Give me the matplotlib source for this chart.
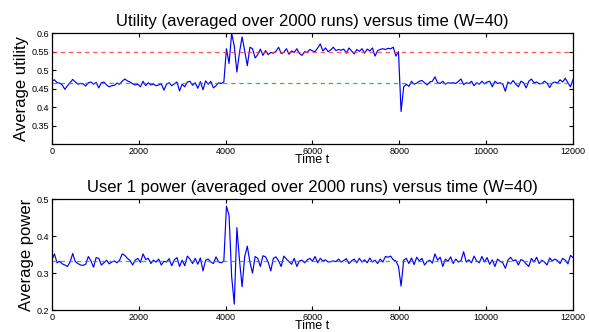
import numpy as np
import matplotlib
matplotlib.use("Agg")
import matplotlib.pyplot as plt

plt.rcParams['font.family'] = ['Liberation Sans', 'DejaVu Sans']

# time grid (sample every 60 steps)
t = np.arange(0, 12001, 60)

utility = [
    # 0 .. 3960
    0.470, 0.474, 0.466, 0.465, 0.460, 0.448, 0.458, 0.466, 0.475, 0.468,
    0.462, 0.464, 0.463, 0.457, 0.466, 0.468, 0.462, 0.467, 0.452, 0.466,
    0.468, 0.460, 0.455, 0.458, 0.459, 0.465, 0.462, 0.470, 0.476, 0.471,
    0.468, 0.463, 0.460, 0.462, 0.455, 0.470, 0.458, 0.466, 0.460, 0.462,
    0.458, 0.460, 0.463, 0.446, 0.462, 0.466, 0.458, 0.463, 0.468, 0.444,
    0.462, 0.455, 0.468, 0.470, 0.459, 0.466, 0.451, 0.469, 0.447, 0.471,
    0.462, 0.470, 0.452, 0.458, 0.466, 0.464, 0.468,
    # 4020 .. 7980
    0.558, 0.518, 0.600, 0.565, 0.495, 0.548, 0.590, 0.552, 0.512, 0.562,
    0.558, 0.533, 0.542, 0.557, 0.540, 0.553, 0.542, 0.548, 0.546, 0.551,
    0.562, 0.545, 0.548, 0.558, 0.543, 0.552, 0.548, 0.558, 0.545, 0.540,
    0.550, 0.548, 0.556, 0.552, 0.550, 0.560, 0.571, 0.552, 0.560, 0.550,
    0.555, 0.562, 0.553, 0.556, 0.554, 0.557, 0.546, 0.560, 0.552, 0.544,
    0.556, 0.551, 0.558, 0.546, 0.557, 0.552, 0.560, 0.538, 0.553, 0.556,
    0.558, 0.556, 0.559, 0.558, 0.562, 0.538, 0.550,
    # 8040 .. 12000
    0.388, 0.455, 0.462, 0.456, 0.470, 0.462, 0.465, 0.470, 0.472, 0.466,
    0.460, 0.468, 0.470, 0.482, 0.466, 0.464, 0.470, 0.462, 0.466, 0.465,
    0.466, 0.464, 0.470, 0.476, 0.461, 0.466, 0.464, 0.470, 0.458, 0.466,
    0.462, 0.470, 0.463, 0.468, 0.470, 0.455, 0.470, 0.464, 0.466, 0.462,
    0.443, 0.468, 0.463, 0.472, 0.462, 0.455, 0.470, 0.466, 0.452, 0.470,
    0.476, 0.466, 0.468, 0.463, 0.464, 0.470, 0.465, 0.453, 0.465, 0.468,
    0.465, 0.474, 0.468, 0.478, 0.466, 0.455, 0.475,
]

power = [
    # 0 .. 3960
    0.335, 0.352, 0.328, 0.332, 0.325, 0.322, 0.318, 0.330, 0.353, 0.331,
    0.326, 0.322, 0.321, 0.324, 0.345, 0.333, 0.316, 0.342, 0.340, 0.322,
    0.328, 0.335, 0.325, 0.330, 0.333, 0.328, 0.335, 0.352, 0.348, 0.340,
    0.334, 0.322, 0.335, 0.340, 0.329, 0.352, 0.337, 0.340, 0.326, 0.335,
    0.330, 0.338, 0.322, 0.332, 0.330, 0.339, 0.320, 0.336, 0.342, 0.318,
    0.335, 0.320, 0.346, 0.338, 0.326, 0.340, 0.324, 0.341, 0.306, 0.335,
    0.338, 0.330, 0.326, 0.344, 0.330, 0.328, 0.333,
    # 4020 .. 7980
    0.481, 0.456, 0.290, 0.216, 0.423, 0.335, 0.263, 0.345, 0.373, 0.330,
    0.300, 0.345, 0.340, 0.318, 0.347, 0.344, 0.330, 0.306, 0.340, 0.344,
    0.333, 0.318, 0.346, 0.338, 0.331, 0.324, 0.340, 0.318, 0.333, 0.335,
    0.328, 0.336, 0.340, 0.332, 0.345, 0.328, 0.340, 0.333, 0.336, 0.330,
    0.331, 0.333, 0.331, 0.338, 0.330, 0.334, 0.339, 0.326, 0.333, 0.338,
    0.328, 0.340, 0.330, 0.336, 0.328, 0.341, 0.330, 0.335, 0.326, 0.338,
    0.330, 0.345, 0.343, 0.346, 0.336, 0.333, 0.318,
    # 8040 .. 12000
    0.265, 0.335, 0.340, 0.326, 0.341, 0.323, 0.343, 0.333, 0.340, 0.322,
    0.331, 0.335, 0.327, 0.352, 0.335, 0.343, 0.318, 0.338, 0.332, 0.344,
    0.326, 0.338, 0.330, 0.334, 0.358, 0.330, 0.336, 0.328, 0.346, 0.333,
    0.328, 0.345, 0.330, 0.342, 0.324, 0.336, 0.318, 0.338, 0.332, 0.328,
    0.313, 0.335, 0.343, 0.333, 0.336, 0.322, 0.337, 0.333, 0.325, 0.318,
    0.340, 0.330, 0.343, 0.326, 0.335, 0.330, 0.322, 0.341, 0.333, 0.338,
    0.334, 0.326, 0.340, 0.335, 0.325, 0.348, 0.342,
]

util_high = 0.548
util_low = 0.465
power_ref = 0.333

xticks = [0, 2000, 4000, 6000, 8000, 10000, 12000]


def style(ax):
    ax.set_xlim(0, 12000)
    ax.set_xticks(xticks)
    ax.tick_params(direction='in', top=True, right=True, labelsize=6.5,
                   length=3, width=0.8, pad=2)
    for s in ax.spines.values():
        s.set_linewidth(0.9)
    ax.set_xlabel("Time t", fontsize=9, labelpad=-1)


fig = plt.figure(figsize=(5.89, 3.32), dpi=100)

ax1 = fig.add_axes([0.088, 0.566, 0.885, 0.334])
ax1.plot(t, utility, color='b', lw=0.85)
ax1.axhline(util_high, color='#ff3030', ls='--', lw=0.9, dashes=(3.5, 3), alpha=0.8)
ax1.axhline(util_low, color='#2a9a2a', ls='--', lw=0.9, dashes=(3.5, 3), alpha=0.8)
ax1.set_ylim(0.3, 0.6)
ax1.set_yticks([0.3, 0.35, 0.4, 0.45, 0.5, 0.55, 0.6])
ax1.set_yticklabels(['', '0.35', '0.4', '0.45', '0.5', '0.55', '0.6'])
ax1.set_ylabel("Average utility", fontsize=12, labelpad=2)
ax1.set_title("Utility (averaged over 2000 runs) versus time (W=40)", fontsize=12, pad=5)
style(ax1)

ax2 = fig.add_axes([0.088, 0.066, 0.885, 0.334])
ax2.plot(t, power, color='b', lw=0.85)
ax2.axhline(power_ref, color='#2a9a2a', ls='--', lw=0.9, dashes=(3.5, 3), alpha=0.8)
ax2.set_ylim(0.2, 0.5)
ax2.set_yticks([0.2, 0.3, 0.4, 0.5])
ax2.set_ylabel("Average power", fontsize=12, labelpad=2)
ax2.set_title("User 1 power (averaged over 2000 runs) versus time (W=40)", fontsize=12, pad=5)
style(ax2)

fig.savefig("out.png", dpi=100)
